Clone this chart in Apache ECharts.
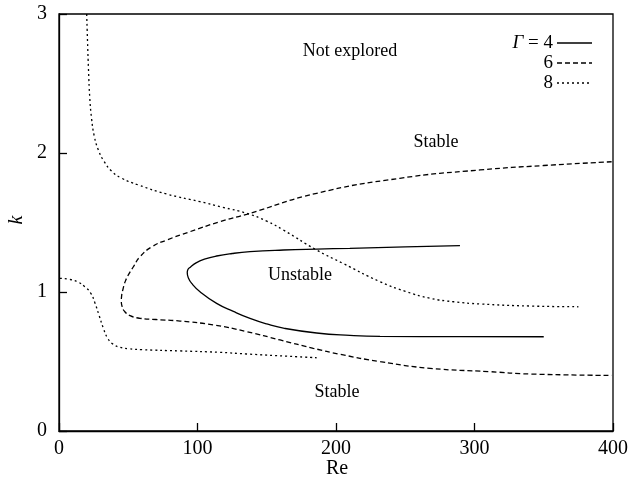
<!DOCTYPE html>
<html>
<head>
<meta charset="utf-8">
<script src="https://cdn.jsdelivr.net/npm/echarts@6/dist/echarts.min.js"></script>
<style>
  html, body { margin: 0; padding: 0; background: #fff; }
  #chart { width: 634px; height: 483px; }
</style>
</head>
<body>
<div id="chart"></div>
<script>
// Neutral stability curves k(Re) for three aspect ratios Γ.
// Γ = 4: closed tongue (upper branch traced back to the nose, then lower branch)
const re4 = [289.5, 250, 210, 186, 162, 137.9, 125, 113.8, 105, 99, 95, 93, 92.6, 93.5, 95.8, 101.8, 113.8, 125.9, 137.9, 150, 162, 186, 210, 231.8, 290, 350];
const k4  = [1.333, 1.325, 1.314, 1.309, 1.302, 1.29, 1.277, 1.259, 1.236, 1.21, 1.18, 1.16, 1.139, 1.10, 1.062, 1.002, 0.918, 0.86, 0.81, 0.77, 0.74, 0.705, 0.688, 0.681, 0.679, 0.678];

// Γ = 6: upper branch from Re = 400 back to the nose, then lower branch out to Re = 400
const re6 = [399, 350, 304, 246, 186, 135.5, 116.2, 94.6, 77.8, 67, 58.5, 53.6, 50.5, 48, 46.2, 45.2, 45, 45.6, 47.2, 51.3, 58.5, 70, 87.4, 111.4, 135.5, 159.6, 183.6, 202.9, 231.8, 267.9, 311, 340, 399];
const k6  = [1.937, 1.91, 1.878, 1.818, 1.71, 1.559, 1.506, 1.434, 1.374, 1.325, 1.254, 1.18, 1.13, 1.08, 1.02, 0.97, 0.93, 0.895, 0.862, 0.83, 0.811, 0.802, 0.791, 0.763, 0.715, 0.655, 0.595, 0.552, 0.499, 0.451, 0.427, 0.41, 0.40];

// Γ = 8: upper curve and lower curve are separate pieces
const re8a = [20, 20.6, 21.3, 22.2, 23.5, 25.5, 28.5, 32.5, 38, 45, 57.3, 77.7, 101.8, 118, 135.5, 150, 162, 186, 205, 231.8, 250, 267.9, 285, 304, 340, 375];
const k8a  = [3.0, 2.8, 2.6, 2.4, 2.25, 2.12, 2.02, 1.94, 1.87, 1.82, 1.77, 1.705, 1.65, 1.61, 1.566, 1.51, 1.446, 1.302, 1.206, 1.074, 1.005, 0.955, 0.93, 0.914, 0.899, 0.894];
const re8b = [0.7, 8, 14, 19, 23, 26, 29, 32, 35, 39, 44, 50, 60, 87.4, 116, 135.5, 186];
const k8b  = [1.098, 1.09, 1.07, 1.035, 0.99, 0.92, 0.83, 0.74, 0.67, 0.625, 0.602, 0.592, 0.585, 0.576, 0.566, 0.554, 0.527];

// Axis ticks
const xTicks = [0, 100, 200, 300, 400];
const yTicks = [0, 1, 2, 3];

// Legend entries
const legendNames = ['4', '6', '8'];

const zip = (xs, ys) => xs.map((x, i) => [x, ys[i]]);

const serif = "'Liberation Serif', 'Times New Roman', serif";
const black = '#000';

function curve(name, data, dash) {
  return {
    name: name,
    type: 'line',
    data: data,
    showSymbol: false,
    smooth: 0.5,
    smoothMonotone: null,
    lineStyle: { color: black, width: 1.3, type: dash },
    animation: false,
    silent: true
  };
}

const chart = echarts.init(document.getElementById('chart'), null, { renderer: 'canvas' });

// Legend: label text on the left, line sample on the right
const legendRows = [
  { text: '{i|Γ} = ' + legendNames[0], dash: 'solid', y: 43 },
  { text: legendNames[1], dash: [5, 3], y: 63 },
  { text: legendNames[2], dash: [2, 3], y: 83 }
];
const legendGraphics = [];
legendRows.forEach(r => {
  legendGraphics.push({
    type: 'text', x: 553, y: r.y,
    style: {
      text: r.text, align: 'right', verticalAlign: 'middle',
      font: '19px ' + serif, fill: black,
      rich: { i: { fontStyle: 'italic', fontFamily: serif, fontSize: 19, fill: black } }
    }
  });
  legendGraphics.push({
    type: 'line',
    shape: { x1: 557, y1: r.y, x2: 592, y2: r.y },
    style: { stroke: black, lineWidth: 1.3, lineDash: r.dash === 'solid' ? null : r.dash }
  });
});

// Region annotations
const regionLabels = [
  { text: 'Not explored', x: 350, y: 51 },
  { text: 'Stable', x: 436, y: 142 },
  { text: 'Unstable', x: 300, y: 275 },
  { text: 'Stable', x: 337, y: 392 }
].map(l => ({
  type: 'text', x: l.x, y: l.y,
  style: { text: l.text, align: 'center', verticalAlign: 'middle', font: '18px ' + serif, fill: black }
}));

// Axis titles
const axisTitles = [
  {
    type: 'text', x: 337, y: 469,
    style: { text: 'Re', align: 'center', verticalAlign: 'middle', font: '20px ' + serif, fill: black }
  },
  {
    type: 'text', x: 17, y: 220, rotation: Math.PI / 2,
    style: { text: 'k', align: 'center', verticalAlign: 'middle', font: 'italic 20px ' + serif, fill: black }
  }
];

chart.setOption({
  backgroundColor: '#fff',
  animation: false,
  grid: {
    left: 59, right: 21, top: 14, bottom: 52,
    containLabel: false, outerBoundsMode: 'none',
    show: true, borderColor: black, borderWidth: 1.3, backgroundColor: 'transparent'
  },
  xAxis: {
    type: 'value',
    min: xTicks[0], max: xTicks[xTicks.length - 1], interval: 100,
    axisLine: { show: true, lineStyle: { color: black, width: 1.3 } },
    axisTick: { show: true, inside: true, length: 8, lineStyle: { color: black, width: 1.3 } },
    axisLabel: { fontFamily: serif, fontSize: 20, color: black, margin: 8 },
    splitLine: { show: false }
  },
  yAxis: {
    type: 'value',
    min: yTicks[0], max: yTicks[yTicks.length - 1], interval: 1,
    axisLine: { show: true, lineStyle: { color: black, width: 1.3 } },
    axisTick: { show: true, inside: true, length: 8, lineStyle: { color: black, width: 1.3 } },
    axisLabel: { fontFamily: serif, fontSize: 20, color: black, margin: 12 },
    splitLine: { show: false }
  },
  series: [
    curve('Γ = 4', zip(re4, k4), 'solid'),
    curve('Γ = 6', zip(re6, k6), [5, 3]),
    curve('Γ = 8', zip(re8a, k8a), [2, 3]),
    curve('Γ = 8 (lower)', zip(re8b, k8b), [2, 3])
  ],
  graphic: legendGraphics.concat(regionLabels, axisTitles)
});
</script>
</body>
</html>
